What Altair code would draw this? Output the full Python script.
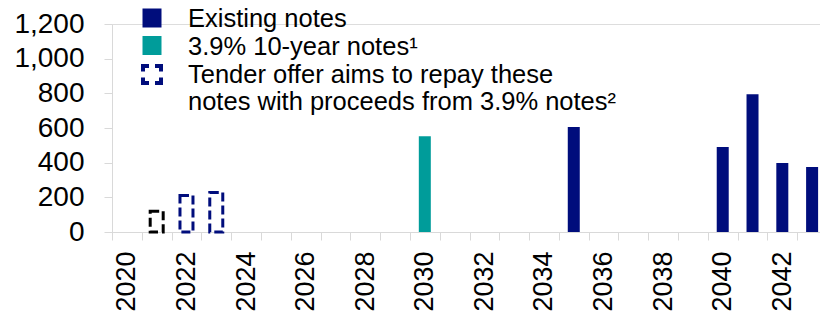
import altair as alt
import pandas as pd

# ---- data ----
years = ["2020", "2021", "2022", "2023", "2024", "2025", "2026", "2027",
         "2028", "2029", "2030", "2031", "2032", "2033", "2034", "2035",
         "2036", "2037", "2038", "2039", "2040", "2041", "2042", "2043"]
bar_years = ["2021", "2022", "2023", "2030", "2035", "2040", "2041", "2042", "2043"]
bar_values = [120, 210, 228, 553, 606, 491, 794, 398, 375]
bar_types = ["tender_old", "tender", "tender", "new", "existing",
             "existing", "existing", "existing", "existing"]
y_ticks = [0, 200, 400, 600, 800, 1000, 1200]
legend_lines = ["Existing notes", "3.9% 10-year notes\u00b9",
                "Tender offer aims to repay these",
                "notes with proceeds from 3.9% notes\u00b2"]

NAVY = "#000D7C"
TEAL = "#009C9A"
GRAY = "#D9D9D9"
FONT = "Liberation Sans"

df = pd.DataFrame({"year": bar_years, "value": bar_values, "type": bar_types})

x_enc = alt.X("year:O", scale=alt.Scale(domain=years, paddingInner=0, paddingOuter=0),
              axis=alt.Axis(title=None, labelAngle=270, tickBand="extent",
                            labelExpr="parseInt(datum.value) % 2 == 0 ? datum.value : ''",
                            tickSize=8, tickColor=GRAY, domainColor=GRAY,
                            labelFontSize=27, labelFont=FONT, labelColor="black",
                            labelPadding=11))
y_enc = alt.Y("value:Q", scale=alt.Scale(domain=[0, 1200]),
              axis=alt.Axis(title=None, values=y_ticks, format=",.0f", grid=False,
                            tickSize=8, tickColor=GRAY, domainColor=GRAY,
                            labelFontSize=28, labelFont=FONT, labelColor="black",
                            labelPadding=20))

base = alt.Chart(df)

solid = base.transform_filter(
    alt.FieldOneOfPredicate(field="type", oneOf=["existing", "new"])
).mark_bar(size=12).encode(
    x=x_enc, y=y_enc,
    color=alt.Color("type:N", scale=alt.Scale(domain=["existing", "new"], range=[NAVY, TEAL]),
                    legend=None),
)

dashed = base.transform_filter(
    alt.FieldOneOfPredicate(field="type", oneOf=["tender", "tender_old"])
).mark_bar(size=13, fill="white", strokeWidth=3, strokeDash=[9, 4]).encode(
    x=x_enc, y=y_enc,
    stroke=alt.Stroke("type:N", scale=alt.Scale(domain=["tender", "tender_old"], range=[NAVY, "black"]),
                      legend=None),
)

# ---- custom legend ----
leg_df = pd.DataFrame({"k": [0]})
leg = alt.Chart(leg_df)
sq1 = leg.mark_rect(fill=NAVY).encode(x=alt.value(30.5), x2=alt.value(49.5), y=alt.value(-15.5), y2=alt.value(3.5))
sq2 = leg.mark_rect(fill=TEAL).encode(x=alt.value(30.5), x2=alt.value(49.5), y=alt.value(12), y2=alt.value(31))
sq3 = leg.mark_rect(fill="white", stroke=NAVY, strokeWidth=4,
                    strokeDash=[6, 6, 11.5, 6, 11.5, 6, 11.5, 6, 5.5]).encode(
    x=alt.value(31), x2=alt.value(49), y=alt.value(42), y2=alt.value(59))
texts = []
for i, line in enumerate(legend_lines):
    texts.append(leg.mark_text(align="left", baseline="alphabetic", fontSize=25.5, font=FONT,
                               color="black").encode(
        x=alt.value(76), y=alt.value(3 + 27.8 * i), text=alt.value(line)))

chart = alt.layer(solid, dashed, sq1, sq2, sq3, *texts).properties(
    width=715, height=208,
    autosize=alt.AutoSizeParams(type="none"),
    padding={"left": 104, "top": 16, "right": -7, "bottom": 82},
).configure_view(stroke=None).configure(font=FONT)

chart.save("out.html", embed_options={"renderer": "svg", "actions": False})
